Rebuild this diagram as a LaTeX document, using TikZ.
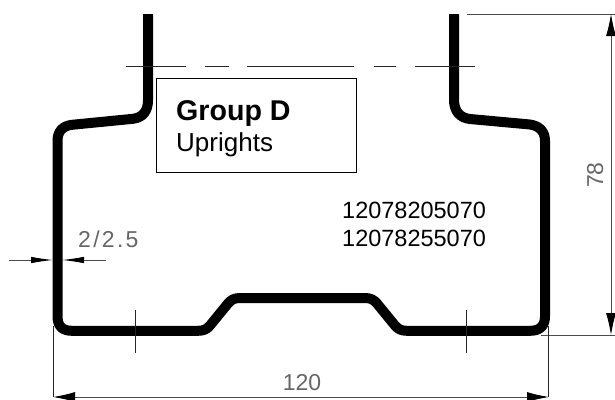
\documentclass[tikz,border=0pt]{standalone}
\usepackage{fontspec}
\setmainfont{Liberation Sans}
\usetikzlibrary{arrows.meta}
\tikzset{
  profile/.style={line width=10pt,line join=round,black},
  thin line/.style={line width=0.8pt,black!85},
  dimline/.style={line width=0.9pt,black!70},
  dimarrow/.style={line width=0.9pt,black!70,-{Latex[length=22pt,width=6.5pt,black]}},
  dimtext/.style={text=black!60,inner sep=0pt,font=\fontsize{23}{23}\selectfont},
  labeltext/.style={inner sep=0pt,anchor=base west}
}
\begin{document}
\begin{tikzpicture}[x=1pt,y=-1pt]
\useasboundingbox (0,0) rectangle (615,399);
% profile
\draw[profile] (148,14) -- (148,100)
  .. controls (148,111) and (143,117.5) .. (133,118.8)
  -- (72,124.8)
  .. controls (62,126) and (57.5,132) .. (57.5,141)
  -- (57.5,316)
  .. controls (57.5,326) and (62,330.8) .. (72,330.8)
  -- (198,330.8)
  .. controls (204,330.8) and (207,329) .. (210,325.5)
  -- (228,303.5)
  .. controls (231,300) and (234,298) .. (240,298)
  -- (365,298)
  .. controls (371,298) and (374,300) .. (377,303.5)
  -- (395,325.5)
  .. controls (398,329) and (401,330.8) .. (407,330.8)
  -- (530,330.8)
  .. controls (540,330.8) and (545,326) .. (545,316)
  -- (545,141)
  .. controls (545,132) and (540,126) .. (530,124.5)
  -- (470,119)
  .. controls (460,118) and (454,111) .. (454,100)
  -- (454,14);
% centre line
\draw[thin line] (126,66) -- (186,66) (205,66) -- (229,66) (247,66) -- (354,66)
  (374,66) -- (396,66) (415,66) -- (475,66);
% ticks
\draw[thin line] (135,310) -- (135,353) (466,310) -- (466,353);
% label box
\node[draw=black,line width=1pt,fill=white,minimum width=200pt,minimum height=94pt,inner sep=0pt,anchor=north west] (box) at (156,78) {};
\node[labeltext,font=\fontsize{28.6}{28.6}\selectfont\bfseries] (title) at (176,120) {Group D};
\node[labeltext,font=\fontsize{26}{26}\selectfont] (sub) at (176,151) {Uprights};
\node[labeltext,font=\fontsize{23.5}{23.5}\selectfont] (codeA) at (342,218.5) {12078205070};
\node[labeltext,font=\fontsize{23.5}{23.5}\selectfont] (codeB) at (342,246) {12078255070};
% thickness dimension
\coordinate (tl) at (9,260);
\coordinate (tla) at (53,260);
\coordinate (tr) at (106,260);
\coordinate (tra) at (62,260);
\draw[dimarrow] (tl) -- (tla);
\draw[dimarrow] (tr) -- (tra);
\node[dimtext,anchor=base west] (thick) at (78,247) {\addfontfeatures{LetterSpace=10}2/2.5};
% height dimension
\coordinate (ht) at (611,14);
\coordinate (hb) at (611,335);
\draw[dimline] (467,14) -- (615,14);
\draw[dimline] (541,335) -- (615,335);
\draw[dimarrow,{Latex[length=22pt,width=10pt,black]}-{Latex[length=22pt,width=10pt,black]}] (ht) -- (hb);
\node[dimtext,rotate=90,anchor=base] (height) at (603,175) {78};
% width dimension
\coordinate (wl) at (53,397);
\coordinate (wr) at (549,397);
\draw[thin line] (53,326) -- (wl);
\draw[thin line] (548,326) -- (548,397);
\draw[dimarrow,{Latex[length=22pt,width=10pt,black]}-{Latex[length=22pt,width=10pt,black]}] (wl) -- (wr);
\node[dimtext,anchor=base] (width) at (302,390) {120};
\end{tikzpicture}
\end{document}
